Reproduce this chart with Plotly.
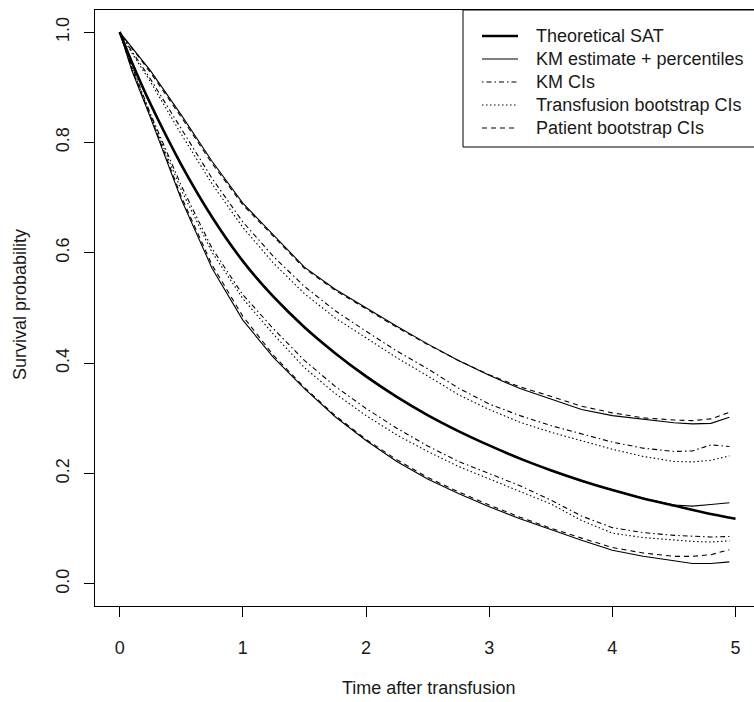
import plotly.graph_objects as go

# ---------------- data ----------------
t_theory = [0, 0.1, 0.25, 0.5, 0.75, 1.0, 1.25, 1.5, 1.75, 2.0, 2.25, 2.5, 2.75,
            3.0, 3.25, 3.5, 3.75, 4.0, 4.25, 4.5, 4.75, 5.0]
s_theory = [1.000, 0.945, 0.870, 0.760, 0.665, 0.585, 0.520, 0.465, 0.418, 0.376,
            0.339, 0.306, 0.277, 0.251, 0.227, 0.206, 0.187, 0.170, 0.155, 0.142,
            0.129, 0.118]

t_grid = [0, 0.1, 0.25, 0.5, 0.75, 1.0, 1.25, 1.5, 1.75, 2.0, 2.25, 2.5, 2.75,
          3.0, 3.25, 3.5, 3.75, 4.0, 4.25, 4.5, 4.65, 4.8, 4.95]

km_est = [1.000, 0.944, 0.868, 0.758, 0.664, 0.584, 0.521, 0.466, 0.417, 0.377,
          0.338, 0.305, 0.276, 0.251, 0.228, 0.205, 0.186, 0.171, 0.155, 0.143,
          0.141, 0.144, 0.147]
km_pct_upper = [1.000, 0.972, 0.930, 0.850, 0.766, 0.690, 0.632, 0.574, 0.534, 0.500,
                0.467, 0.435, 0.405, 0.378, 0.354, 0.335, 0.316, 0.305, 0.298, 0.292,
                0.290, 0.291, 0.302]
km_pct_lower = [1.000, 0.930, 0.845, 0.697, 0.572, 0.478, 0.410, 0.354, 0.303, 0.260,
                0.222, 0.190, 0.164, 0.140, 0.118, 0.098, 0.079, 0.061, 0.050, 0.042,
                0.037, 0.037, 0.040]
km_ci_upper = [1.000, 0.965, 0.915, 0.825, 0.735, 0.656, 0.593, 0.539, 0.495, 0.458,
               0.422, 0.390, 0.355, 0.326, 0.305, 0.287, 0.272, 0.257, 0.246, 0.240,
               0.241, 0.252, 0.249]
km_ci_lower = [1.000, 0.938, 0.852, 0.722, 0.608, 0.524, 0.462, 0.405, 0.358, 0.318,
               0.282, 0.250, 0.222, 0.200, 0.178, 0.152, 0.123, 0.102, 0.093, 0.088,
               0.086, 0.085, 0.086]
tb_ci_upper = [1.000, 0.962, 0.910, 0.815, 0.725, 0.646, 0.581, 0.526, 0.482, 0.446,
               0.410, 0.377, 0.343, 0.316, 0.293, 0.275, 0.260, 0.244, 0.231, 0.222,
               0.221, 0.224, 0.232]
tb_ci_lower = [1.000, 0.936, 0.848, 0.714, 0.601, 0.517, 0.452, 0.392, 0.345, 0.305,
               0.270, 0.240, 0.213, 0.190, 0.168, 0.145, 0.115, 0.092, 0.084, 0.079,
               0.077, 0.076, 0.078]
pb_ci_upper = [1.000, 0.970, 0.927, 0.846, 0.762, 0.687, 0.630, 0.572, 0.532, 0.498,
               0.465, 0.434, 0.405, 0.379, 0.357, 0.340, 0.322, 0.310, 0.301, 0.297,
               0.296, 0.299, 0.311]
pb_ci_lower = [1.000, 0.932, 0.848, 0.702, 0.578, 0.485, 0.414, 0.356, 0.305, 0.262,
               0.225, 0.193, 0.167, 0.143, 0.121, 0.101, 0.083, 0.066, 0.056, 0.050,
               0.050, 0.053, 0.062]

x_ticks = [0, 1, 2, 3, 4, 5]
y_ticks = [0.0, 0.2, 0.4, 0.6, 0.8, 1.0]
legend_labels = ["Theoretical SAT", "KM estimate + percentiles", "KM CIs",
                 "Transfusion bootstrap CIs", "Patient bootstrap CIs"]

# ---------------- styles ----------------
FONT = "Arial, 'Liberation Sans', sans-serif"
TXT = "#1a1a1a"
THICK = 2.6
THIN = 1.1
DASH_SOLID = "solid"
DASH_DOTDASH = "1.5px,3px,5px,3px"
DASH_DOT = "1.5px,2.5px"
DASH_DASH = "5px,4px"

W, H = 754, 702
ML, MR, MT, MB = 95, 0, 10, 96

fig = go.Figure()


def add_line(x, y, width, dash, shape="linear"):
    fig.add_trace(go.Scatter(x=x, y=y, mode="lines", showlegend=False,
                             hoverinfo="skip",
                             line=dict(color="black", width=width, dash=dash,
                                       shape=shape)))


# percentiles + KM estimate (thin solid)
add_line(t_grid, km_pct_upper, THIN, DASH_SOLID)
add_line(t_grid, km_pct_lower, THIN, DASH_SOLID)
add_line(t_grid, km_est, THIN, DASH_SOLID)
# patient bootstrap (dashed)
add_line(t_grid, pb_ci_upper, THIN, DASH_DASH)
add_line(t_grid, pb_ci_lower, THIN, DASH_DASH)
# KM CIs (dot-dash)
add_line(t_grid, km_ci_upper, THIN, DASH_DOTDASH)
add_line(t_grid, km_ci_lower, THIN, DASH_DOTDASH)
# transfusion bootstrap (dotted)
add_line(t_grid, tb_ci_upper, THIN, DASH_DOT)
add_line(t_grid, tb_ci_lower, THIN, DASH_DOT)
# theoretical (thick)
add_line(t_theory, s_theory, THICK, DASH_SOLID, shape="spline")

pw = W - ML - MR
ph = H - MT - MB


def xp(px):
    return (px - ML) / pw


def yp(py):
    return (H - MB - py) / ph


# ---------------- manual R-style legend ----------------
shapes = []
annotations = []
shapes.append(dict(type="rect", xref="paper", yref="paper",
                   x0=xp(463), x1=xp(775), y0=yp(147), y1=yp(10),
                   line=dict(color="black", width=1), fillcolor="white",
                   layer="above"))
leg_styles = [(THICK, DASH_SOLID), (THIN, DASH_SOLID), (THIN, DASH_DOTDASH),
              (THIN, DASH_DOT), (THIN, DASH_DASH)]
row0, row_step = 36, 23
for i, (lab, (wd, ds)) in enumerate(zip(legend_labels, leg_styles)):
    yy = yp(row0 + i * row_step)
    shapes.append(dict(type="line", xref="paper", yref="paper",
                       x0=xp(482), x1=xp(518), y0=yy, y1=yy,
                       line=dict(color="black", width=wd, dash=ds),
                       layer="above"))
    annotations.append(dict(text=lab, xref="paper", yref="paper",
                            x=xp(534), y=yy, xanchor="left", yanchor="middle",
                            showarrow=False,
                            font=dict(family=FONT, size=18, color=TXT)))

# axis titles
annotations.append(dict(text="Time after transfusion", xref="paper", yref="paper",
                        x=xp(428), y=0, xanchor="center", yanchor="middle",
                        yshift=-(688 - (H - MB)), showarrow=False,
                        font=dict(family=FONT, size=18, color=TXT)))
annotations.append(dict(text="Survival probability", xref="paper", yref="paper",
                        x=0, y=yp(305), xanchor="center", yanchor="middle",
                        xshift=-(ML - 20), textangle=-90, showarrow=False,
                        font=dict(family=FONT, size=18, color=TXT)))

fig.update_layout(
    width=W, height=H,
    margin=dict(l=ML, r=MR, t=MT, b=MB, pad=0),
    paper_bgcolor="white", plot_bgcolor="white",
    showlegend=False,
    font=dict(family=FONT, size=18, color=TXT),
    shapes=shapes, annotations=annotations,
    xaxis=dict(range=[-0.2, -0.2 + pw / 123.18], tickvals=x_ticks,
               ticktext=[str(v) for v in x_ticks],
               showgrid=False, zeroline=False, showline=True, mirror=True,
               linecolor="black", linewidth=1, ticks="outside", ticklen=10,
               tickwidth=1, tickcolor="black", ticklabelstandoff=15,
               tickfont=dict(family=FONT, size=18, color=TXT)),
    yaxis=dict(range=[-0.04, 1.04], tickvals=y_ticks,
               ticktext=["%.1f" % v for v in y_ticks],
               showgrid=False, zeroline=False, showline=True, mirror=False,
               linecolor="black", linewidth=1, ticks="outside", ticklen=10,
               tickwidth=1, tickcolor="black", tickangle=-90,
               ticklabelstandoff=8,
               tickfont=dict(family=FONT, size=18, color=TXT)),
)

fig.write_html("out.html", config={"displayModeBar": False},
               post_script="document.body.style.margin='0';")
